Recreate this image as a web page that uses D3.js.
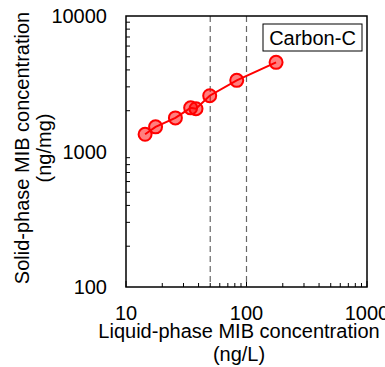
<!DOCTYPE html>
<html>
<head>
<meta charset="utf-8">
<script src="https://cdn.jsdelivr.net/npm/d3@7"></script>
<style>
  body { margin: 0; background: #fff; }
  svg { display: block; font-family: Arial, "Liberation Sans", sans-serif; }
</style>
</head>
<body>
<div id="chart"></div>
<script>
// data
const liquidConc = [14.4, 17.6, 25.7, 34.4, 38.1, 49.5, 83, 176];
const solidConc = [1340, 1520, 1770, 2100, 2070, 2580, 3350, 4550];
const refLines = [50, 100];
const xTicks = [10, 100, 1000];
const yTicks = [100, 1000, 10000];
const seriesName = 'Carbon-C';

const W = 385, H = 367;
const plot = { left: 126, right: 367, top: 16, bottom: 287 };
const FS = 20;

const svg = d3.select('#chart')
	.append('svg')
	.attr('width', W)
	.attr('height', H);

const x = d3.scaleLog().domain([10, 1000]).range([plot.left, plot.right]);
const y = d3.scaleLog().domain([100, 10000]).range([plot.bottom, plot.top]);

// minor + major ticks, drawn inward
const minorX = d3.range(1, 3).flatMap(e => d3.range(2, 10).map(m => m * Math.pow(10, e)));
const minorY = d3.range(2, 4).flatMap(e => d3.range(2, 10).map(m => m * Math.pow(10, e)));

const xAxis = svg.append('g')
	.attr('transform', `translate(0,${plot.bottom})`);
xAxis.selectAll('line.minor')
	.data(minorX)
	.join('line')
	.attr('x1', d => x(d)).attr('x2', d => x(d))
	.attr('y1', 0).attr('y2', -4)
	.attr('stroke', '#000').attr('stroke-width', 1);
xAxis.selectAll('line.major')
	.data(xTicks)
	.join('line')
	.attr('x1', d => x(d)).attr('x2', d => x(d))
	.attr('y1', 0).attr('y2', -6)
	.attr('stroke', '#000').attr('stroke-width', 1);
xAxis.selectAll('text')
	.data(xTicks)
	.join('text')
	.attr('x', d => x(d))
	.attr('y', 33)
	.attr('text-anchor', 'middle')
	.attr('font-size', FS)
	.text(d => d);

const yAxis = svg.append('g')
	.attr('transform', `translate(${plot.left},0)`);
yAxis.selectAll('line.minor')
	.data(minorY)
	.join('line')
	.attr('y1', d => y(d)).attr('y2', d => y(d))
	.attr('x1', 0).attr('x2', 4)
	.attr('stroke', '#000').attr('stroke-width', 1);
yAxis.selectAll('text')
	.data(yTicks)
	.join('text')
	.attr('x', -19)
	.attr('y', d => y(d) + 7)
	.attr('text-anchor', 'end')
	.attr('font-size', FS)
	.text(d => d);

// reference lines
svg.append('g')
	.selectAll('line')
	.data(refLines)
	.join('line')
	.attr('x1', d => x(d)).attr('x2', d => x(d))
	.attr('y1', plot.top).attr('y2', plot.bottom)
	.attr('stroke', '#666')
	.attr('stroke-width', 1.2)
	.attr('stroke-dasharray', '6,4');

// frame
svg.append('rect')
	.attr('x', plot.left).attr('y', plot.top)
	.attr('width', plot.right - plot.left)
	.attr('height', plot.bottom - plot.top)
	.attr('fill', 'none')
	.attr('stroke', '#000')
	.attr('stroke-width', 1.5);

// series
const pts = liquidConc.map((v, i) => ({ lx: v, sy: solidConc[i] }));

svg.append('path')
	.datum(pts)
	.attr('fill', 'none')
	.attr('stroke', '#ff0000')
	.attr('stroke-width', 2)
	.attr('d', d3.line().x(d => x(d.lx)).y(d => y(d.sy)));

svg.append('g')
	.selectAll('circle')
	.data(pts)
	.join('circle')
	.attr('cx', d => x(d.lx))
	.attr('cy', d => y(d.sy))
	.attr('r', 6.5)
	.attr('fill', 'rgba(255,0,0,0.5)')
	.attr('stroke', '#ff0000')
	.attr('stroke-width', 2);

// legend box
const legend = svg.append('g');
legend.append('rect')
	.attr('x', 263).attr('y', 24)
	.attr('width', 99).attr('height', 27)
	.attr('fill', '#fff')
	.attr('stroke', '#000')
	.attr('stroke-width', 1);
legend.append('text')
	.attr('x', 312.5).attr('y', 44.5)
	.attr('text-anchor', 'middle')
	.attr('font-size', FS)
	.text(seriesName);

// axis titles
const xTitle = svg.append('text')
	.attr('text-anchor', 'middle')
	.attr('font-size', FS);
xTitle.append('tspan').attr('x', 239).attr('y', 338).text('Liquid-phase MIB concentration');
xTitle.append('tspan').attr('x', 239).attr('y', 361).text('(ng/L)');

const yTitle = svg.append('text')
	.attr('transform', 'translate(0,148) rotate(-90)')
	.attr('text-anchor', 'middle')
	.attr('font-size', FS);
yTitle.append('tspan').attr('x', 0).attr('y', 29).text('Solid-phase MIB concentration');
yTitle.append('tspan').attr('x', 0).attr('y', 51).text('(ng/mg)');
</script>
</body>
</html>
